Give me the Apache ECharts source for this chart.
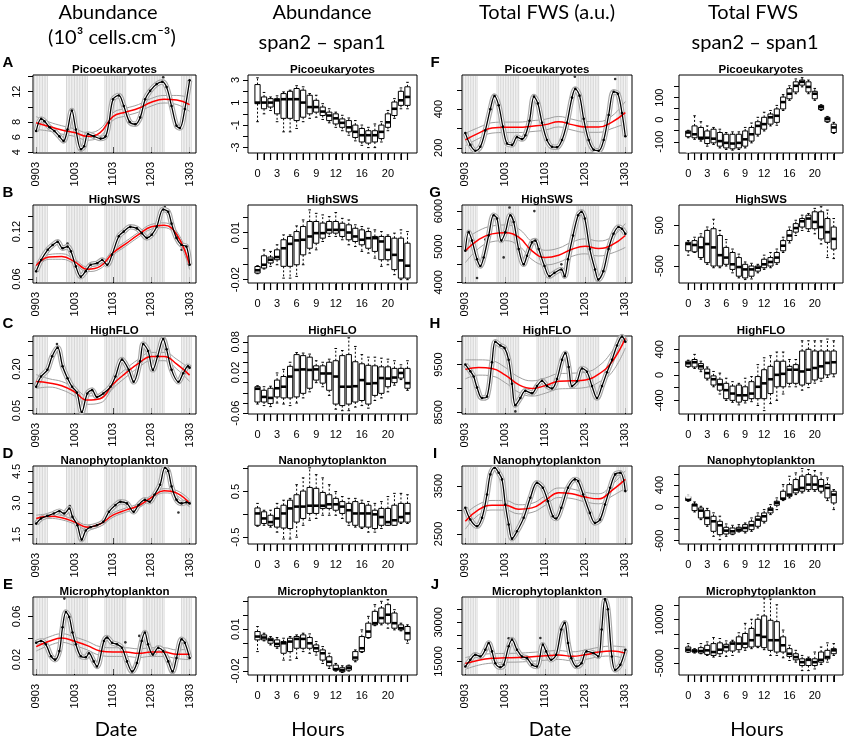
<!DOCTYPE html>
<html>
<head>
<meta charset="utf-8">
<script src="https://cdn.jsdelivr.net/npm/echarts@6/dist/echarts.min.js"></script>
<style>
html, body { margin: 0; padding: 0; background: #fff; }
#chartmain { width: 851px; height: 742px; }
</style>
</head>
<body>
<div id="chartmain"></div>
<script>
// shared axes
var hours = [0, 1, 2, 3, 4, 5, 6, 7, 8, 9, 10, 11, 12, 13, 14, 15, 16, 17, 18, 19, 20, 21, 22, 23];
var hourLabels = [0, 3, 6, 9, 12, 16, 20];
var dateTicks = [0, 24, 48, 72, 96];
var dateLabels = ['0903', '1003', '1103', '1203', '1303'];
var smoothTimes = [0, 8, 16, 24, 32, 40, 48, 56, 64, 72, 80, 88, 96];
var nightHours = [-1, 0, 1, 2, 3, 4, 5, 6, 7,
    19, 20, 21, 22, 23, 24, 25, 26, 27, 28, 29, 30, 31, 32,
    43, 44, 45, 46, 47, 48, 49, 50, 51, 52, 53, 54, 55, 56,
    67, 68, 69, 70, 71, 72, 73, 74, 75, 76, 77, 78, 79, 80,
    91, 92, 93, 94, 95, 96, 97];

// A - Picoeukaryotes abundance
var picoAbLine = [[0, 6.8], [3.1, 8.4], [5.2, 8.1], [8.3, 7.3], [11.4, 6.8], [14.5, 6.1], [17.1, 5.5], [19.6, 7.0], [22.3, 9.5], [24.8, 7.0], [28, 4.4], [30, 4.8], [32.4, 6.4], [36.2, 6.1], [40.3, 5.8], [43.4, 6.1], [45.5, 7.9], [48.1, 11.0], [51.7, 11.5], [54.8, 10.1], [58.5, 8.0], [62, 7.7], [65.1, 8.6], [68.2, 11.0], [71.3, 12.1], [75.4, 13.0], [78.9, 13.3], [81.6, 12.6], [84.7, 10.1], [87.8, 7.5], [89.9, 7.2], [93, 9.7], [96, 13.5]];
var picoAbDots = [[79.5, 13.9]];
var picoAbRed = [7.9, 7.4, 6.95, 6.6, 6.1, 6.6, 8.7, 9.3, 9.8, 10.6, 11.0, 10.9, 10.3];
var picoAbUp = [8.7, 8.0, 7.5, 7.1, 6.6, 7.1, 9.2, 9.8, 10.3, 11.1, 11.5, 11.5, 11.2];
var picoAbLo = [7.0, 6.8, 6.4, 6.1, 5.6, 6.1, 8.2, 8.8, 9.3, 10.1, 10.5, 10.3, 9.4];

// B - HighSWS abundance
var swsAbLine = [[0, 0.0697], [3.1, 0.084], [7.2, 0.097], [10.3, 0.103], [13.4, 0.107], [16.5, 0.099], [19.6, 0.101], [21.7, 0.095], [24.8, 0.076], [27.9, 0.063], [31, 0.070], [34.1, 0.078], [38.2, 0.080], [41.3, 0.084], [44.4, 0.078], [47.5, 0.091], [51.7, 0.114], [54.8, 0.120], [58.9, 0.126], [63, 0.124], [66.1, 0.118], [69.2, 0.112], [72.3, 0.116], [75.4, 0.126], [79.5, 0.148], [82.6, 0.145], [84.7, 0.130], [87.8, 0.112], [90.9, 0.103], [94, 0.101], [96, 0.078]];
var swsAbDots = [[19.6, 0.105], [80.5, 0.151], [91, 0.097]];
var swsAbRed = [0.077, 0.088, 0.0885, 0.082, 0.0725, 0.076, 0.093, 0.1045, 0.116, 0.126, 0.128, 0.116, 0.078];
var swsAbUp = [0.081, 0.091, 0.092, 0.085, 0.0755, 0.079, 0.096, 0.1075, 0.119, 0.129, 0.131, 0.120, 0.084];
var swsAbLo = [0.073, 0.085, 0.085, 0.079, 0.0695, 0.073, 0.090, 0.1015, 0.113, 0.123, 0.125, 0.112, 0.072];

// C - HighFLO abundance
var floAbLine = [[0, 0.136], [3, 0.173], [7, 0.197], [10, 0.246], [13.4, 0.277], [16.5, 0.21], [19.6, 0.167], [22.5, 0.136], [25.5, 0.115], [28.5, 0.045], [32, 0.112], [35, 0.124], [38, 0.099], [42, 0.112], [46.5, 0.136], [49.6, 0.173], [53.7, 0.234], [57.9, 0.197], [61, 0.154], [65, 0.228], [67, 0.29], [70, 0.265], [73, 0.197], [76, 0.246], [79.5, 0.308], [81.6, 0.271], [84.7, 0.197], [89, 0.154], [92, 0.185], [95, 0.21], [96, 0.205]];
var floAbDots = [[13, 0.29], [35, 0.128]];
var floAbRed = [0.155, 0.150, 0.140, 0.118, 0.088, 0.093, 0.145, 0.185, 0.220, 0.245, 0.245, 0.218, 0.178];
var floAbUp = [0.180, 0.165, 0.155, 0.133, 0.103, 0.108, 0.160, 0.200, 0.235, 0.260, 0.260, 0.235, 0.200];
var floAbLo = [0.130, 0.135, 0.125, 0.103, 0.073, 0.078, 0.130, 0.170, 0.205, 0.230, 0.230, 0.200, 0.155];

// D - Nanophytoplankton abundance
var nanoAbLine = [[0, 2.02], [3, 2.26], [7, 2.39], [11, 2.5], [14.5, 2.61], [17.5, 2.5], [20.7, 2.74], [22.7, 2.34], [25.8, 1.94], [28.5, 1.26], [31, 1.69], [34, 1.85], [38, 1.94], [42, 2.1], [45.5, 2.58], [49.6, 2.9], [52.7, 3.06], [56.8, 2.98], [61, 2.58], [64, 2.9], [68, 3.15], [71, 3.06], [74, 3.39], [77.5, 3.87], [80.6, 4.68], [82.6, 4.52], [84.7, 3.79], [87.8, 3.15], [91, 2.98], [94, 3.03], [96, 2.98]];
var nanoAbDots = [[89, 2.55], [21, 2.85]];
var nanoAbRed = [2.26, 2.37, 2.30, 2.10, 1.85, 2.00, 2.42, 2.66, 2.87, 3.26, 3.58, 3.47, 2.98];
var nanoAbUp = [2.42, 2.47, 2.40, 2.20, 1.96, 2.10, 2.52, 2.76, 2.97, 3.36, 3.68, 3.59, 3.15];
var nanoAbLo = [2.10, 2.27, 2.20, 2.00, 1.74, 1.90, 2.32, 2.56, 2.77, 3.16, 3.48, 3.35, 2.80];

// E - Microphytoplankton abundance
var microAbLine = [[0, 0.0357], [3, 0.0373], [6, 0.0342], [9.3, 0.0232], [11.8, 0.020], [14.5, 0.0279], [16.5, 0.050], [18.6, 0.064], [20.7, 0.0594], [22.7, 0.0452], [24.8, 0.0342], [27.9, 0.0232], [31, 0.0222], [33, 0.026], [36, 0.0184], [38, 0.0137], [42.4, 0.0373], [44.4, 0.0405], [47.5, 0.0357], [50.6, 0.0342], [53.7, 0.031], [56.8, 0.0184], [60, 0.009], [63, 0.0169], [66, 0.0373], [68, 0.0452], [70, 0.0342], [73, 0.0247], [76.4, 0.031], [79.5, 0.0279], [82.6, 0.0184], [85.3, 0.009], [87.8, 0.0216], [91, 0.0389], [93, 0.0357], [96, 0.0216]];
var microAbDots = [[17.6, 0.0765], [55.8, 0.036], [64.5, 0.042]];
var microAbRed = [0.032, 0.037, 0.040, 0.037, 0.033, 0.028, 0.027, 0.027, 0.026, 0.027, 0.027, 0.025, 0.025];
var microAbUp = [0.036, 0.041, 0.044, 0.041, 0.037, 0.032, 0.031, 0.031, 0.030, 0.031, 0.031, 0.029, 0.030];
var microAbLo = [0.028, 0.033, 0.036, 0.033, 0.029, 0.024, 0.023, 0.023, 0.022, 0.023, 0.023, 0.021, 0.020];

// F - Picoeukaryotes total FWS
var picoFwsLine = [[0, 276], [3, 215], [6, 185], [9, 205], [12, 290], [15, 400], [17.5, 468], [20, 420], [22.5, 310], [25, 222], [28, 215], [31, 255], [34, 245], [36, 265], [38.5, 340], [41.2, 465], [43.5, 430], [46, 330], [49, 240], [52, 205], [55, 203], [58, 240], [61, 330], [64, 460], [66, 505], [68.5, 470], [71, 350], [74, 240], [77, 190], [80, 185], [83, 240], [86, 370], [89, 490], [91.5, 480], [94, 380], [96, 260]];
var picoFwsDots = [[65.7, 568], [89.9, 556]];
var picoFwsRed = [241, 276, 303, 306, 306, 312, 320, 335, 320, 308, 308, 333, 382];
var picoFwsUp = [275, 305, 330, 333, 333, 340, 348, 362, 348, 336, 336, 365, 440];
var picoFwsLo = [210, 248, 276, 279, 279, 284, 292, 308, 292, 280, 280, 300, 325];

// G - HighSWS total FWS
var swsFwsLine = [[0, 4885], [2, 5409], [4, 5171], [7, 4647], [9, 4457], [11, 4695], [14, 5314], [17, 5885], [19, 5790], [21.6, 5171], [24, 5409], [27, 5885], [29, 5695], [32, 4933], [35, 4505], [37, 4743], [40, 5123], [42, 5171], [44, 4933], [47.5, 4457], [50.5, 4171], [53.5, 4266], [57.6, 4362], [59.6, 4171], [61.6, 4647], [64.6, 5314], [67.7, 5885], [69.7, 5980], [71.7, 5790], [74.7, 4933], [77.8, 4362], [79.8, 4076], [82.8, 4314], [85.9, 4933], [88.9, 5361], [91.9, 5552], [94, 5504], [96, 5361]];
var swsFwsDots = [[7, 4120], [23, 4700], [41.4, 6000], [57.6, 4505], [26.5, 6100], [12, 5200]];
var swsFwsRed = [4885, 5200, 5360, 5390, 5266, 4885, 4695, 4760, 4930, 5010, 4950, 5050, 5314];
var swsFwsUp = [5200, 5450, 5580, 5610, 5500, 5130, 4900, 4960, 5130, 5220, 5160, 5280, 5650];
var swsFwsLo = [4550, 4950, 5140, 5170, 5030, 4640, 4490, 4560, 4730, 4800, 4740, 4820, 4980];

// H - HighFLO total FWS
var floFwsLine = [[0, 9500], [3, 9360], [5, 9250], [7, 9020], [10, 8800], [13, 8830], [16, 9550], [18, 9980], [21, 9900], [23.5, 9850], [26, 9600], [28, 9100], [30, 8650], [33, 8800], [36, 8950], [40, 8900], [43, 9050], [46, 9160], [49, 9050], [52, 9000], [55, 9200], [58, 9600], [60, 9740], [62, 9450], [64, 9050], [67, 9150], [70, 9420], [73, 9350], [76, 9050], [79, 8800], [82, 9050], [85, 9340], [88, 9600], [91, 9900], [94, 10090], [96, 9980]];
var floFwsDots = [[30, 8520], [12, 8780]];
var floFwsRed = [9400, 9440, 9420, 9280, 9080, 9000, 9060, 9150, 9160, 9180, 9300, 9560, 10050];
var floFwsUp = [9600, 9600, 9580, 9440, 9240, 9160, 9220, 9310, 9320, 9340, 9470, 9780, 10250];
var floFwsLo = [9200, 9280, 9260, 9120, 8920, 8840, 8900, 8990, 9000, 9020, 9130, 9340, 9850];

// I - Nanophytoplankton total FWS
var nanoFwsLine = [[0, 3045], [3, 2800], [7, 2660], [10, 2836], [13, 3325], [15, 3744], [17.6, 3884], [20, 3779], [22, 3640], [24, 3115], [26, 2696], [28, 2402], [31, 2556], [35, 2836], [39, 3255], [43, 3570], [46.5, 3465], [49.5, 3185], [52.5, 2870], [54.5, 2822], [57.6, 3045], [61.6, 3465], [65.7, 3640], [67.7, 3604], [70.7, 3325], [74.7, 2940], [77.8, 2731], [80.8, 2800], [83.8, 3115], [86.9, 3465], [89.9, 3744], [93, 3779], [96, 3395]];
var nanoFwsDots = [];
var nanoFwsRed = [2766, 3010, 3100, 3100, 3017, 3045, 3200, 3360, 3340, 3270, 3234, 3410, 3640];
var nanoFwsUp = [2920, 3120, 3200, 3200, 3110, 3140, 3300, 3460, 3440, 3370, 3340, 3530, 3820];
var nanoFwsLo = [2600, 2900, 3000, 3000, 2920, 2950, 3100, 3260, 3240, 3170, 3130, 3290, 3450];

// J - Microphytoplankton total FWS
var microFwsLine = [[0, 13065], [3, 15645], [6, 17580], [9, 16935], [12, 19515], [14, 22100], [16, 18870], [18, 14355], [21, 12800], [23, 13710], [26, 20800], [28, 23390], [31, 19500], [34, 16935], [37, 16290], [40, 13710], [43, 13065], [46.5, 21450], [48.5, 18870], [51.5, 15645], [54.5, 17580], [57.6, 27250], [59.6, 29830], [61.6, 22100], [63.6, 16290], [66.7, 13065], [69.7, 14355], [72.7, 18870], [76.8, 18225], [79.8, 16935], [81.8, 27250], [83.8, 38870], [85.5, 35000], [87.9, 16935], [89.9, 11775], [93, 13710], [96, 19515]];
var microFwsDots = [[26, 23900], [45, 24000], [83.5, 40000]];
var microFwsRed = [14200, 15500, 16200, 16400, 16500, 16800, 17200, 17500, 17000, 17600, 18600, 19000, 18200];
var microFwsUp = [16500, 17500, 18000, 18100, 18200, 18500, 18900, 19200, 18700, 19400, 20400, 20900, 20500];
var microFwsLo = [12000, 13600, 14400, 14700, 14800, 15100, 15500, 15800, 15300, 15800, 16800, 17100, 15900];

// hourly span2 - span1 boxes: [low whisker, Q1, median, Q3, high whisker]
var picoAbBox = [[-0.7, 0.9, 1.0, 2.6, 3.2], [0.0, 0.45, 1.0, 1.5, 1.9], [0.3, 0.6, 1.0, 1.35, 1.5], [-0.7, 0.0, 1.2, 1.35, 1.6], [-1.6, -0.4, 1.3, 1.8, 1.95], [-1.6, -0.4, 1.3, 2.0, 2.1], [-1.3, -0.6, 1.3, 2.25, 2.5], [-0.7, -0.3, 1.0, 2.1, 2.4], [-0.4, 0.0, 0.6, 1.65, 1.8], [-0.3, 0.15, 0.6, 1.2, 1.65], [-0.5, -0.15, 0.2, 0.6, 0.9], [-0.8, -0.6, -0.15, 0.15, 0.45], [-1.2, -0.9, -0.4, 0.0, 0.15], [-1.5, -1.2, -0.8, -0.45, -0.13], [-1.9, -1.6, -1.2, -0.6, -0.37], [-2.4, -2.1, -1.6, -1.0, -0.6], [-2.8, -2.5, -1.9, -1.3, -1.0], [-3.0, -2.6, -1.9, -1.5, -1.2], [-3.0, -2.5, -1.9, -1.5, -0.9], [-2.5, -2.2, -1.6, -1.0, -0.7], [-1.5, -1.2, -0.75, 0.0, 0.3], [-0.4, -0.15, 0.45, 1.05, 1.35], [0.45, 0.75, 1.2, 2.0, 2.3], [0.45, 0.75, 1.5, 2.4, 2.8]];
var picoAbOut = [];
var swsAbBox = [[-0.0162, -0.0158, -0.014, -0.0116, -0.0111], [-0.0132, -0.0126, -0.0105, -0.0048, -0.001], [-0.0115, -0.0094, -0.0073, -0.0056, -0.002], [-0.0105, -0.0073, -0.0056, -0.001, 0.0022], [-0.019, -0.0115, 0.0, 0.0054, 0.0085], [-0.019, -0.0115, 0.0028, 0.0075, 0.0085], [-0.0179, -0.0105, 0.005, 0.0106, 0.0142], [-0.0105, -0.0042, 0.0054, 0.0138, 0.018], [-0.0031, 0.0, 0.0075, 0.017, 0.0244], [-0.001, 0.0032, 0.0096, 0.017, 0.0222], [0.0043, 0.0064, 0.0096, 0.016, 0.0212], [0.0075, 0.0096, 0.0117, 0.017, 0.0201], [0.0075, 0.0096, 0.0117, 0.017, 0.0227], [0.0054, 0.0075, 0.0117, 0.0159, 0.019], [0.0022, 0.0054, 0.01, 0.0149, 0.018], [0.0011, 0.0043, 0.0075, 0.0127, 0.0149], [-0.002, 0.0022, 0.0054, 0.0117, 0.0138], [-0.0031, 0.0, 0.0064, 0.0106, 0.0127], [-0.0063, -0.002, 0.0064, 0.0075, 0.0117], [-0.0115, -0.0073, 0.0043, 0.0075, 0.0106], [-0.0105, -0.0073, -0.001, 0.0075, 0.0085], [-0.0168, -0.0136, -0.0042, 0.0064, 0.0096], [-0.02, -0.019, -0.0077, 0.0064, 0.0117], [-0.02, -0.019, -0.0111, 0.0032, 0.0106]];
var swsAbOut = [[0, 0.0085]];
var floAbBox = [[-0.042, -0.038, -0.012, -0.008, -0.006], [-0.045, -0.038, -0.028, -0.015, -0.008], [-0.047, -0.041, -0.030, -0.011, -0.007], [-0.040, -0.028, -0.011, 0.005, 0.019], [-0.042, -0.030, -0.008, 0.012, 0.026], [-0.045, -0.030, 0.012, 0.032, 0.040], [-0.040, -0.028, 0.025, 0.055, 0.059], [-0.030, -0.021, 0.026, 0.053, 0.058], [-0.018, -0.011, 0.025, 0.050, 0.056], [0.000, 0.005, 0.026, 0.033, 0.043], [-0.008, -0.001, 0.018, 0.033, 0.040], [-0.025, -0.015, 0.018, 0.040, 0.046], [-0.052, -0.042, 0.012, 0.043, 0.067], [-0.055, -0.045, -0.008, 0.053, 0.063], [-0.055, -0.042, -0.008, 0.055, 0.088], [-0.048, -0.038, -0.007, 0.041, 0.071], [-0.045, -0.035, 0.005, 0.037, 0.055], [-0.050, -0.042, -0.002, 0.034, 0.050], [-0.035, -0.025, -0.001, 0.033, 0.050], [-0.030, -0.021, 0.009, 0.031, 0.048], [-0.018, -0.008, 0.008, 0.031, 0.046], [-0.005, 0.000, 0.010, 0.028, 0.043], [0.006, 0.009, 0.019, 0.028, 0.035], [-0.015, -0.011, -0.001, 0.028, 0.043]];
var floAbOut = [[0, 0.047]];
var nanoAbBox = [[-0.26, -0.24, 0.02, 0.14, 0.24], [-0.24, -0.2, -0.09, 0.056, 0.09], [-0.28, -0.24, -0.17, -0.02, 0.09], [-0.39, -0.28, -0.09, 0.13, 0.24], [-0.54, -0.3, 0.02, 0.2, 0.31], [-0.54, -0.31, 0.13, 0.31, 0.35], [-0.5, -0.17, 0.17, 0.43, 0.65], [-0.24, -0.09, 0.17, 0.51, 0.8], [-0.13, 0.02, 0.19, 0.59, 1.02], [-0.09, 0.02, 0.19, 0.57, 0.87], [-0.02, 0.13, 0.19, 0.48, 0.8], [-0.02, 0.13, 0.22, 0.43, 0.65], [-0.02, 0.09, 0.22, 0.35, 0.5], [-0.09, 0.02, 0.17, 0.28, 0.39], [-0.24, -0.17, 0.09, 0.24, 0.35], [-0.28, -0.24, 0.02, 0.28, 0.35], [-0.31, -0.28, 0.02, 0.24, 0.31], [-0.39, -0.28, 0.02, 0.2, 0.28], [-0.39, -0.31, 0.0, 0.09, 0.24], [-0.31, -0.24, -0.06, 0.13, 0.28], [-0.24, -0.24, -0.17, 0.13, 0.39], [-0.24, -0.24, -0.13, 0.2, 0.46], [-0.2, -0.17, -0.06, 0.24, 0.46], [-0.2, -0.17, 0.02, 0.24, 0.43]];
var nanoAbOut = [];
var microAbBox = [[-0.0061, 0.0023, 0.0047, 0.0083, 0.0119], [0.0016, 0.0023, 0.004, 0.0059, 0.0071], [-0.0013, -0.0001, 0.0023, 0.0035, 0.0047], [-0.0037, -0.0025, -0.0006, 0.0023, 0.004], [-0.0122, -0.0073, -0.0001, 0.0011, 0.0035], [-0.0122, -0.0061, 0.0011, 0.0035, 0.0047], [-0.011, -0.0037, 0.003, 0.0047, 0.0059], [-0.0061, -0.0037, 0.003, 0.0059, 0.0071], [-0.0073, -0.0037, -0.0001, 0.004, 0.0066], [-0.0086, -0.0061, -0.0037, -0.0013, 0.0011], [-0.0146, -0.0122, -0.0073, -0.0049, -0.0025], [-0.0182, -0.0163, -0.0134, -0.0098, -0.0073], [-0.0201, -0.0194, -0.0187, -0.0158, -0.0146], [-0.0211, -0.0206, -0.0194, -0.0177, -0.0163], [-0.0201, -0.0194, -0.0177, -0.0163, -0.0158], [-0.0134, -0.0122, -0.0104, -0.0061, -0.0049], [-0.0067, -0.0061, -0.0037, 0.0047, 0.0095], [0.0035, 0.004, 0.0083, 0.0143, 0.0192], [0.0125, 0.0131, 0.0143, 0.0228, 0.0276], [0.0131, 0.0143, 0.018, 0.0252, 0.03], [0.0107, 0.0143, 0.0204, 0.0276, 0.0312], [0.0095, 0.0107, 0.0143, 0.0216, 0.024], [0.0088, 0.0095, 0.0107, 0.0131, 0.0143], [-0.0001, 0.0023, 0.0071, 0.0119, 0.0131]];
var microAbOut = [];
var picoFwsBox = [[-82, -77, -58, -51, -48], [-89, -82, -66, -28, 18], [-97, -89, -82, -35, -9], [-120, -108, -82, -51, -28], [-112, -105, -86, -43, -35], [-128, -120, -97, -58, -43], [-135, -128, -105, -66, -58], [-138, -132, -108, -66, -55], [-135, -128, -105, -66, -55], [-128, -120, -89, -51, -35], [-105, -97, -66, -35, -15], [-74, -66, -28, -9, 11], [-51, -43, -20, 11, 34], [-28, -20, 11, 26, 42], [-25, -12, 18, 49, 65], [42, 49, 80, 103, 114], [88, 95, 118, 141, 154], [118, 126, 154, 172, 185], [149, 157, 172, 180, 191], [118, 126, 149, 172, 180], [88, 95, 118, 129, 142], [42, 46, 57, 65, 68], [-12, -9, 3, 11, 15], [-62, -58, -35, -20, -12]];
var picoFwsOut = [[0, 45], [0, -135]];
var swsFwsBox = [[-233, -125, 42, 83, 125], [-167, -150, 17, 125, 208], [-333, -292, -42, 208, 292], [-458, -417, 42, 375, 458], [-542, -500, -42, 417, 650], [-542, -500, -233, 250, 375], [-500, -458, -292, -42, 150], [-667, -583, -458, -167, -83], [-792, -750, -525, -292, -208], [-833, -792, -583, -458, -400], [-817, -750, -583, -500, -433], [-667, -625, -542, -500, -458], [-583, -542, -458, -333, -233], [-542, -500, -400, -292, -167], [-458, -417, -292, -167, -83], [-167, -125, 0, 125, 208], [67, 125, 250, 375, 458], [250, 333, 433, 542, 625], [375, 458, 600, 667, 750], [350, 417, 667, 750, 792], [292, 417, 583, 833, 917], [42, 167, 458, 833, 958], [-292, 83, 333, 667, 875], [-317, -83, 167, 458, 667]];
var swsFwsOut = [[0, 400]];
var floFwsBox = [[120, 133, 181, 213, 229], [100, 123, 197, 240, 320], [50, 90, 133, 176, 213], [-80, -53, 27, 91, 123], [-187, -160, -69, -16, 53], [-300, -240, -150, -69, 27], [-400, -373, -240, -133, -53], [-430, -400, -293, -176, -107], [-470, -427, -320, -160, -133], [-440, -400, -320, -187, -53], [-420, -373, -293, -107, -27], [-480, -373, -187, -27, 160], [-560, -373, -133, 80, 267], [-450, -293, -69, 133, 300], [-400, -187, 0, 213, 357], [-300, -187, 16, 213, 357], [-187, -133, 80, 133, 240], [-187, -133, 80, 160, 240], [-240, -160, 53, 373, 533], [-200, -133, 80, 400, 533], [-130, -80, 107, 373, 533], [-100, -53, 133, 373, 533], [-40, 0, 187, 373, 560], [-30, 16, 197, 373, 533]];
var floFwsOut = [[0, 453], [0, -69]];
var nanoFwsBox = [[108, 120, 138, 198, 228], [-84, -60, 36, 60, 96], [-222, -192, -60, -12, 18], [-342, -312, -192, -60, -20], [-522, -432, -252, -162, -100], [-582, -492, -324, -252, -160], [-522, -480, -420, -360, -300], [-492, -480, -432, -372, -324], [-444, -432, -402, -360, -312], [-462, -432, -372, -312, -282], [-432, -402, -324, -252, -192], [-372, -342, -222, -162, -102], [-282, -252, -162, -102, -42], [-132, -102, -42, -12, 48], [-42, 36, 78, 108, 168], [120, 138, 156, 288, 408], [168, 198, 228, 408, 558], [228, 258, 318, 498, 618], [258, 288, 348, 558, 696], [288, 318, 408, 588, 678], [288, 318, 408, 558, 660], [258, 288, 378, 498, 618], [120, 168, 348, 408, 528], [-42, 78, 228, 288, 318]];
var nanoFwsOut = [[0, 216], [0, -222]];
var microFwsBox = [[-1280, -1160, -350, 580, 1740], [-1510, -1160, -810, -350, 0], [-1740, -1510, -810, 350, 1740], [-2330, -1980, -580, 1160, 2330], [-2900, -2330, -1160, 1740, 3840], [-2670, -1740, -350, 2000, 3490], [-2670, -810, 580, 1510, 2670], [-2330, -810, 1740, 2330, 2900], [-1160, -350, 1740, 4070, 5470], [-580, 350, 1740, 5230, 8720], [0, 580, 2910, 6980, 10120], [350, 810, 4650, 10120, 11630], [-350, 350, 4070, 11280, 17440], [-2330, -580, 2910, 9770, 17090], [-2330, -1160, 2910, 9300, 15120], [-3140, -1160, 1160, 4070, 6400], [-4070, -2670, -1740, 0, 1160], [-4650, -3840, -2900, -1740, -580], [-7560, -5810, -4650, -3490, -2330], [-7560, -5810, -3840, -3490, -2900], [-6980, -5810, -4650, -3490, -1160], [-5470, -4650, -3840, -1160, 580], [-4650, -3490, -2900, -580, 2000], [-2330, -1740, -580, 0, 1740]];
var microFwsOut = [];

// layout
var colLeft = [33, 248, 462, 679];
var colWidth = [163, 169, 170, 164];
var rowTop = [75, 205, 336, 466, 597];
var plotHeight = 78;
var yLabelMargin = [11, 7, 18, 14];
var tickFont = '"Liberation Sans", Arial, sans-serif';
var headFont = 'Lato, "Liberation Sans", sans-serif';
var groupNames = ['Picoeukaryotes', 'HighSWS', 'HighFLO', 'Nanophytoplankton', 'Microphytoplankton'];

var linePanels = [
    {col: 0, row: 0, line: picoAbLine, dots: picoAbDots, red: picoAbRed, up: picoAbUp, lo: picoAbLo, min: 3.9, max: 14.2, ticks: [4, 6, 8, 10, 12, 14], labels: [4, 6, 8, 12], dec: 0},
    {col: 0, row: 1, line: swsAbLine, dots: swsAbDots, red: swsAbRed, up: swsAbUp, lo: swsAbLo, min: 0.055, max: 0.1536, ticks: [0.06, 0.08, 0.10, 0.12, 0.14], labels: [0.06, 0.12], dec: 2},
    {col: 0, row: 2, line: floAbLine, dots: floAbDots, red: floAbRed, up: floAbUp, lo: floAbLo, min: 0.038, max: 0.319, ticks: [0.05, 0.10, 0.15, 0.20, 0.25, 0.30], labels: [0.05, 0.20], dec: 2},
    {col: 0, row: 3, line: nanoAbLine, dots: nanoAbDots, red: nanoAbRed, up: nanoAbUp, lo: nanoAbLo, min: 1.05, max: 4.76, ticks: [1.5, 2.0, 2.5, 3.0, 3.5, 4.0, 4.5], labels: [1.5, 3.0, 4.5], dec: 1},
    {col: 0, row: 4, line: microAbLine, dots: microAbDots, red: microAbRed, up: microAbUp, lo: microAbLo, min: 0.0058, max: 0.078, ticks: [0.02, 0.04, 0.06], labels: [0.02, 0.06], dec: 2},
    {col: 2, row: 0, line: picoFwsLine, dots: picoFwsDots, red: picoFwsRed, up: picoFwsUp, lo: picoFwsLo, min: 173, max: 577, ticks: [200, 300, 400, 500], labels: [200, 400], dec: 0},
    {col: 2, row: 1, line: swsFwsLine, dots: swsFwsDots, red: swsFwsRed, up: swsFwsUp, lo: swsFwsLo, min: 3981, max: 6171, ticks: [4000, 4500, 5000, 5500, 6000], labels: [4000, 5000, 6000], dec: 0},
    {col: 2, row: 2, line: floFwsLine, dots: floFwsDots, red: floFwsRed, up: floFwsUp, lo: floFwsLo, min: 8465, max: 10100, ticks: [8500, 9000, 9500, 10000], labels: [8500, 9500], dec: 0},
    {col: 2, row: 3, line: nanoFwsLine, dots: nanoFwsDots, red: nanoFwsRed, up: nanoFwsUp, lo: nanoFwsLo, min: 2290, max: 3920, ticks: [2500, 3000, 3500], labels: [2500, 3500], dec: 0},
    {col: 2, row: 4, line: microFwsLine, dots: microFwsDots, red: microFwsRed, up: microFwsUp, lo: microFwsLo, min: 9830, max: 39700, ticks: [15000, 20000, 25000, 30000, 35000], labels: [15000, 30000], dec: 0}
];

var boxPanels = [
    {col: 1, row: 0, box: picoAbBox, out: picoAbOut, min: -3.48, max: 3.45, ticks: [-3, -2, -1, 0, 1, 2, 3], labels: [-3, -1, 1, 3], dec: 0},
    {col: 1, row: 1, box: swsAbBox, out: swsAbOut, min: -0.0221, max: 0.0275, ticks: [-0.02, -0.01, 0, 0.01, 0.02], labels: [-0.02, 0.01], dec: 2},
    {col: 1, row: 2, box: floAbBox, out: floAbOut, min: -0.0615, max: 0.0915, ticks: [-0.06, -0.04, -0.02, 0, 0.02, 0.04, 0.06, 0.08], labels: [-0.06, 0.02, 0.08], dec: 2},
    {col: 1, row: 3, box: nanoAbBox, out: nanoAbOut, min: -0.65, max: 1.06, ticks: [-0.5, 0, 0.5, 1.0], labels: [-0.5, 0.5], dec: 1},
    {col: 1, row: 4, box: microAbBox, out: microAbOut, min: -0.0229, max: 0.0331, ticks: [-0.02, -0.01, 0, 0.01, 0.02, 0.03], labels: [-0.02, 0.01], dec: 2},
    {col: 3, row: 0, box: picoFwsBox, out: picoFwsOut, min: -151, max: 203, ticks: [-100, -50, 0, 50, 100, 150], labels: [-100, 0, 100], dec: 0},
    {col: 3, row: 1, box: swsFwsBox, out: swsFwsOut, min: -917, max: 1000, ticks: [-500, 0, 500], labels: [-500, 500], dec: 0},
    {col: 3, row: 2, box: floFwsBox, out: floFwsOut, min: -613, max: 608, ticks: [-400, -200, 0, 200, 400], labels: [-400, 0, 400], dec: 0},
    {col: 3, row: 3, box: nanoFwsBox, out: nanoFwsOut, min: -660, max: 742, ticks: [-600, -400, -200, 0, 200, 400, 600], labels: [-600, 0, 400], dec: 0},
    {col: 3, row: 4, box: microFwsBox, out: microFwsOut, min: -9070, max: 17800, ticks: [-5000, 0, 5000, 10000, 15000], labels: [-5000, 10000], dec: 0}
];

var grids = [], xAxes = [], yAxes = [], series = [], texts = [];

function yAxisFor(k, p) {
    return {
        gridIndex: k, type: 'value', min: p.min, max: p.max,
        axisLine: {show: false, onZero: false}, splitLine: {show: false},
        axisTick: {show: true, length: 5, customValues: p.ticks, lineStyle: {color: '#000'}},
        axisLabel: {
            customValues: p.labels, rotate: 90, margin: yLabelMargin[p.col],
            fontSize: 11, color: '#000', fontFamily: tickFont,
            formatter: function (v) { return v.toFixed(p.dec); }
        }
    };
}

function addGrid(p) {
    grids.push({
        left: colLeft[p.col], top: rowTop[p.row], width: colWidth[p.col], height: plotHeight,
        show: true, borderColor: '#000', borderWidth: 1
    });
    texts.push({
        type: 'text', x: colLeft[p.col] + colWidth[p.col] / 2, y: rowTop[p.row] - 5,
        style: {text: groupNames[p.row], font: 'bold 11.5px ' + tickFont, fill: '#000', textAlign: 'center', textVerticalAlign: 'middle'}
    });
    return grids.length - 1;
}

function pairs(times, vals) {
    return times.map(function (t, i) { return [t, vals[i]]; });
}

// x tick marks drawn through the grid's x scale (offsets from the plot bottom)
function tickSeries(k, values, yVals, from, to) {
    return {
        type: 'custom', xAxisIndex: k, yAxisIndex: k, silent: true, clip: false,
        data: values.map(function (v, i) { return [v, yVals[i]]; }),
        renderItem: function (params, api) {
            var cs = params.coordSys;
            var x = api.coord([api.value(0), api.value(1)])[0];
            var yb = cs.y + cs.height;
            return {type: 'line', shape: {x1: x, y1: yb + from, x2: x, y2: yb + to},
                style: {stroke: '#000', lineWidth: 1.2}};
        }
    };
}

linePanels.forEach(function (p) {
    var k = addGrid(p);
    xAxes.push({
        gridIndex: k, type: 'value', min: -2, max: 100,
        axisLine: {show: false, onZero: false}, splitLine: {show: false},
        axisTick: {show: true, inside: true, length: 6, customValues: dateTicks, lineStyle: {color: '#000'}},
        axisLabel: {
            customValues: dateTicks, rotate: 90, margin: 9,
            fontSize: 11, color: '#000', fontFamily: tickFont,
            formatter: function (v) { return dateLabels[dateTicks.indexOf(v)]; }
        }
    });
    yAxes.push(yAxisFor(k, p));
    var base = {xAxisIndex: k, yAxisIndex: k, silent: true};
    // night sampling marks
    series.push(Object.assign({
        type: 'custom',
        data: nightHours.map(function (t) { return [t, p.min]; }),
        renderItem: function (params, api) {
            var cs = params.coordSys;
            var x = api.coord([api.value(0), api.value(1)])[0];
            return {type: 'line', shape: {x1: x, y1: cs.y + 1, x2: x, y2: cs.y + cs.height - 1},
                style: {stroke: '#d6d6d6', lineWidth: 1}};
        }
    }, base));
    // red loess confidence band
    [p.up, p.lo].forEach(function (vals) {
        series.push(Object.assign({type: 'line', data: pairs(smoothTimes, vals), smooth: 0.45, symbol: 'none',
            lineStyle: {color: '#a0a0a0', width: 1}}, base));
    });
    // black fit confidence band (outline)
    series.push(Object.assign({type: 'line', data: p.line, smooth: 0.35, symbol: 'none',
        lineStyle: {color: '#a8a8a8', width: 5.5}}, base));
    series.push(Object.assign({type: 'line', data: p.line, smooth: 0.35, symbol: 'none',
        lineStyle: {color: '#ffffff', width: 3.2}}, base));
    series.push(Object.assign({type: 'line', data: pairs(smoothTimes, p.red), smooth: 0.45, symbol: 'none',
        lineStyle: {color: '#ff0000', width: 1.5}}, base));
    series.push(Object.assign({type: 'line', data: p.line, smooth: 0.35, symbol: 'circle', symbolSize: 2.6,
        showSymbol: true, itemStyle: {color: '#000'}, lineStyle: {color: '#000', width: 1.3}}, base));
    series.push(Object.assign({type: 'scatter', data: p.dots, symbol: 'circle', symbolSize: 2.6,
        itemStyle: {color: '#000'}}, base));
});

function renderBox(params, api) {
    var h = api.value(0);
    var lo = api.coord([h, api.value(1)]);
    var q1 = api.coord([h, api.value(2)]);
    var md = api.coord([h, api.value(3)]);
    var q3 = api.coord([h, api.value(4)]);
    var hi = api.coord([h, api.value(5)]);
    var w = api.size([0.8, 0])[0];
    var x = md[0];
    var cap = w * 0.25;
    var thin = {stroke: '#000', lineWidth: 1};
    var dash = {stroke: '#000', lineWidth: 1, lineDash: [2, 2]};
    return {
        type: 'group',
        children: [
            {type: 'line', shape: {x1: x, y1: q3[1], x2: x, y2: hi[1]}, style: dash},
            {type: 'line', shape: {x1: x, y1: q1[1], x2: x, y2: lo[1]}, style: dash},
            {type: 'line', shape: {x1: x - cap, y1: hi[1], x2: x + cap, y2: hi[1]}, style: thin},
            {type: 'line', shape: {x1: x - cap, y1: lo[1], x2: x + cap, y2: lo[1]}, style: thin},
            {type: 'rect', shape: {x: x - w / 2, y: q3[1], width: w, height: q1[1] - q3[1]},
                style: {fill: '#fff', stroke: '#000', lineWidth: 1}},
            {type: 'line', shape: {x1: x - w / 2, y1: md[1], x2: x + w / 2, y2: md[1]},
                style: {stroke: '#000', lineWidth: 2.6}}
        ]
    };
}

boxPanels.forEach(function (p) {
    var k = addGrid(p);
    xAxes.push({
        gridIndex: k, type: 'value', min: -1.46, max: 24.46,
        axisLine: {show: false, onZero: false}, splitLine: {show: false},
        axisTick: {show: true, length: 7, customValues: hours, lineStyle: {color: '#000'}},
        axisLabel: {customValues: hourLabels, margin: 15, fontSize: 11, color: '#000', fontFamily: tickFont}
    });
    yAxes.push(yAxisFor(k, p));
    var base = {xAxisIndex: k, yAxisIndex: k, silent: true};
    series.push(Object.assign({
        type: 'custom',
        data: hours.map(function (h, i) { return [h].concat(p.box[i]); }),
        encode: {x: 0, y: [1, 2, 3, 4, 5]},
        renderItem: renderBox
    }, base));
    series.push(Object.assign({type: 'scatter', data: p.out, symbol: 'emptyCircle', symbolSize: 5,
        itemStyle: {color: '#fff', borderColor: '#000', borderWidth: 1}}, base));
    series.push(tickSeries(k, hours, p.box.map(function (b) { return b[2]; }), 1, 7));
});

// headers, panel letters, axis names
function addText(str, x, y, font) {
    texts.push({type: 'text', x: x, y: y,
        style: {text: str, font: font, fill: '#000', textAlign: 'center', textVerticalAlign: 'middle'}});
}
var big = '20px ' + headFont;
addText('Abundance', 108, 13, big);
addText('(10³ cells.cm⁻³)', 112, 38, big);
addText('Abundance', 322, 13, big);
addText('span2 – span1', 322, 43, big);
addText('Total FWS (a.u.)', 547, 13, big);
addText('Total FWS', 753, 13, big);
addText('span2 – span1', 755, 43, big);
addText('Date', 116, 730, big);
addText('Hours', 318, 730, big);
addText('Date', 550, 730, big);
addText('Hours', 757, 730, big);
['A', 'B', 'C', 'D', 'E'].forEach(function (l, i) { addText(l, 8, rowTop[i] - 12, 'bold 15px ' + tickFont); });
['F', 'G', 'H', 'I', 'J'].forEach(function (l, i) { addText(l, 435, rowTop[i] - 12, 'bold 15px ' + tickFont); });

var myChart = echarts.init(document.getElementById('chartmain'));
myChart.setOption({
    animation: false,
    backgroundColor: '#fff',
    grid: grids,
    xAxis: xAxes,
    yAxis: yAxes,
    series: series,
    graphic: texts
});
</script>
</body>
</html>
